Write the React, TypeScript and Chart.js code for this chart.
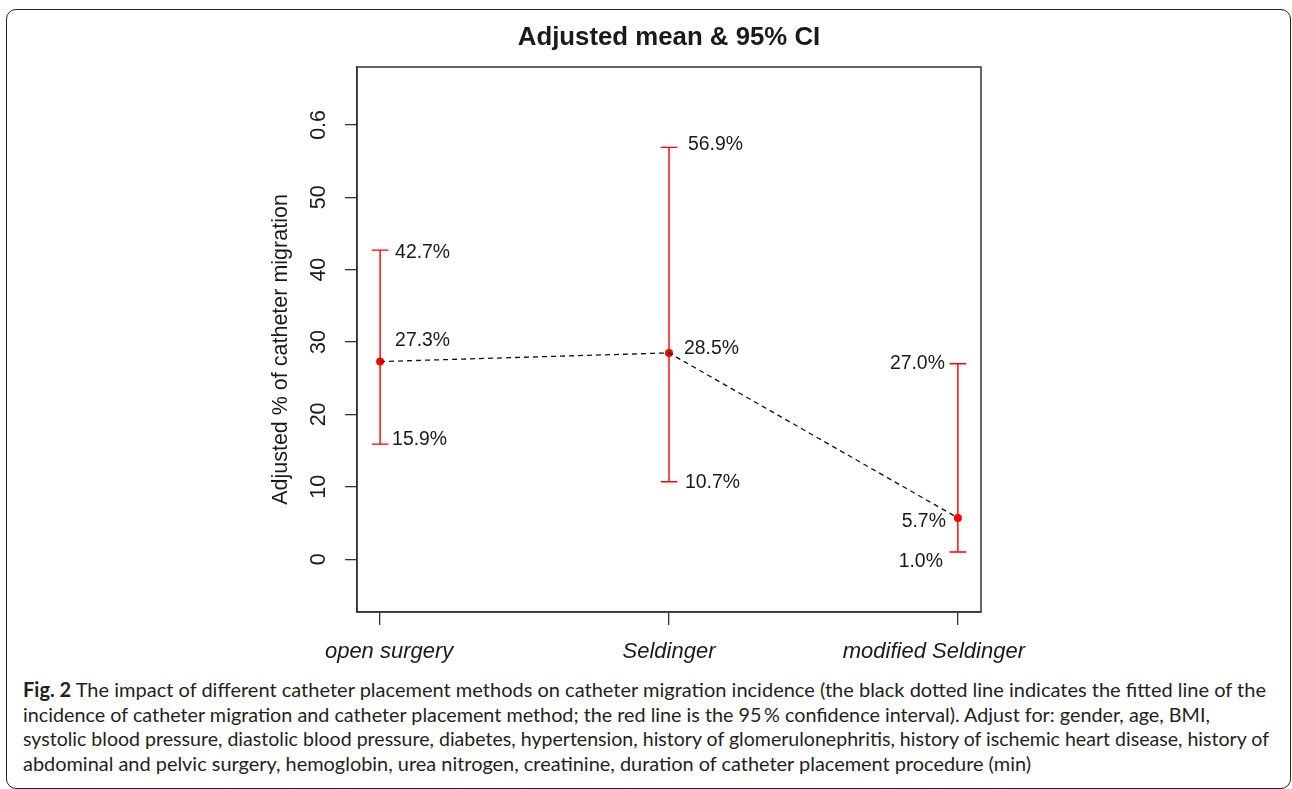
import { useEffect, useLayoutEffect, useRef } from 'react';
import { Chart, registerables } from 'chart.js';

Chart.register(...registerables);

// ---------- data ----------
const categories = ['open surgery', 'Seldinger', 'modified Seldinger'];
const categoryPositions = [1, 2, 3];
const meanValues = [27.3, 28.5, 5.7];
const lowerValues = [15.9, 10.7, 1.0];
const upperValues = [42.7, 56.9, 27.0];
const yTickValues = [0, 10, 20, 30, 40, 50, 60];
const yTickLabels = ['0', '10', '20', '30', '40', '50', '0.6'];
const chartTitle = 'Adjusted mean & 95% CI';
const yAxisTitle = 'Adjusted % of catheter migration';
const captionBold = 'Fig. 2';
const captionLines = [
  ' The impact of different catheter placement methods on catheter migration incidence (the black dotted line indicates the fitted line of the',
  'incidence of catheter migration and catheter placement method; the red line is the 95\u2009% confidence interval). Adjust for: gender, age, BMI,',
  'systolic blood pressure, diastolic blood pressure, diabetes, hypertension, history of glomerulonephritis, history of ischemic heart disease, history of',
  'abdominal and pelvic surgery, hemoglobin, urea nitrogen, creatinine, duration of catheter placement procedure (min)',
];

// ---------- styling ----------
const labelPlacement = [
  { align: 'left', upper: [15, 2.5], mean: [15, -21], lower: [12, -4] },
  { align: 'left', upper: [19, -2.6], mean: [15, -4], lower: [16, 1] },
  { align: 'right', upper: [-13, 0], mean: [-12, 4], lower: [-15, 10] },
];
const categoryLabelShift = [9, 0, -24];
const captionLineWidths = [1243, 1187, 1246, 1008];

const FONT = '"Liberation Sans", Arial, Helvetica, sans-serif';
const AXIS_PX = 21.5;
const XLABEL_PX = 22;
const LABEL_PX = 19.4;
const TITLE_PX = 25.8;
const INK = '#1a1a1a';

const fmt = (v: number) => v.toFixed(1) + '%';

const figurePlugin = {
  id: 'figurePlugin',
  beforeDatasetsDraw(chart: any) {
    const { ctx, scales } = chart;
    const x = scales.x;
    const y = scales.y;
    ctx.save();
    ctx.strokeStyle = '#ff0000';
    ctx.lineWidth = 1.4;
    categoryPositions.forEach((c, i) => {
      const px = x.getPixelForValue(c);
      const yl = y.getPixelForValue(lowerValues[i]);
      const yu = y.getPixelForValue(upperValues[i]);
      ctx.beginPath();
      ctx.moveTo(px, yl);
      ctx.lineTo(px, yu);
      ctx.moveTo(px - 8.3, yl);
      ctx.lineTo(px + 8.3, yl);
      ctx.moveTo(px - 8.3, yu);
      ctx.lineTo(px + 8.3, yu);
      ctx.stroke();
    });
    ctx.restore();
  },
  afterDatasetsDraw(chart: any) {
    const { ctx, scales, chartArea: ca } = chart;
    const x = scales.x;
    const y = scales.y;
    ctx.save();

    // plot box
    ctx.strokeStyle = '#333';
    ctx.lineWidth = 1.5;
    ctx.strokeRect(ca.left, ca.top, ca.right - ca.left, ca.bottom - ca.top);

    // value labels
    ctx.fillStyle = INK;
    ctx.font = `${LABEL_PX}px ${FONT}`;
    ctx.textBaseline = 'middle';
    categoryPositions.forEach((c, i) => {
      const px = x.getPixelForValue(c);
      const p = labelPlacement[i];
      ctx.textAlign = p.align as CanvasTextAlign;
      const items: [number, number[]][] = [
        [upperValues[i], p.upper],
        [meanValues[i], p.mean],
        [lowerValues[i], p.lower],
      ];
      items.forEach(([v, off]) => {
        ctx.fillText(fmt(v), px + off[0], y.getPixelForValue(v) + off[1]);
      });
    });

    // title
    ctx.textAlign = 'center';
    ctx.font = `bold ${TITLE_PX}px ${FONT}`;
    ctx.fillText(chartTitle, (ca.left + ca.right) / 2, 37.5);

    // x category labels
    ctx.font = `italic ${XLABEL_PX}px ${FONT}`;
    categoryPositions.forEach((c, i) => {
      ctx.fillText(categories[i], x.getPixelForValue(c) + categoryLabelShift[i], ca.bottom + 40);
    });

    // y tick labels (rotated)
    ctx.font = `${AXIS_PX}px ${FONT}`;
    yTickValues.forEach((v, i) => {
      ctx.save();
      ctx.translate(ca.left - 38, y.getPixelForValue(v));
      ctx.rotate(-Math.PI / 2);
      ctx.fillText(yTickLabels[i], 0, 0);
      ctx.restore();
    });

    // y axis title
    ctx.save();
    ctx.translate(ca.left - 75.5, (ca.top + ca.bottom) / 2 + 10);
    ctx.rotate(-Math.PI / 2);
    ctx.fillText(yAxisTitle, 0, 0);
    ctx.restore();

    ctx.restore();
  },
};

export default function App() {
  const canvasRef = useRef<HTMLCanvasElement | null>(null);
  const lineRefs = useRef<(HTMLSpanElement | null)[]>([]);

  useLayoutEffect(() => {
    const fit = () => {
      lineRefs.current.forEach((el, i) => {
        if (!el) return;
        el.style.transform = 'none';
        const w = el.getBoundingClientRect().width;
        if (w > 0) el.style.transform = `scaleX(${captionLineWidths[i] / w})`;
      });
    };
    fit();
    if ((document as any).fonts && (document as any).fonts.ready) {
      (document as any).fonts.ready.then(fit);
    }
  }, []);

  useEffect(() => {
    if (!canvasRef.current) return;
    const chart = new Chart(canvasRef.current, {
      type: 'scatter',
      data: {
        datasets: [
          {
            data: categoryPositions.map((c, i) => ({ x: c, y: meanValues[i] })),
            showLine: true,
            borderColor: '#111',
            borderWidth: 1.3,
            borderDash: [5, 4],
            pointRadius: 0,
            fill: false,
          },
          {
            data: categoryPositions.map((c, i) => ({ x: c, y: meanValues[i] })),
            showLine: false,
            pointRadius: 4,
            pointBackgroundColor: '#ff0000',
            pointBorderColor: '#ff0000',
            pointBorderWidth: 0,
          },
        ],
      },
      options: {
        responsive: false,
        animation: false,
        events: [],
        layout: { padding: { top: 67, right: 311, bottom: 0, left: 0 } },
        plugins: {
          legend: { display: false },
          tooltip: { enabled: false },
          title: { display: false },
        },
        scales: {
          x: {
            type: 'linear',
            min: 0.92,
            max: 3.08,
            afterBuildTicks: (s: any) => {
              s.ticks = categoryPositions.map((v) => ({ value: v }));
            },
            afterFit: (s: any) => {
              s.height = 58;
            },
            ticks: { display: false },
            grid: {
              drawOnChartArea: false,
              drawTicks: true,
              tickLength: 13,
              color: '#333',
              lineWidth: 1.3,
            },
            border: { display: true, color: '#333', width: 1.5 },
          },
          y: {
            type: 'linear',
            min: -7.3,
            max: 68,
            afterBuildTicks: (s: any) => {
              s.ticks = yTickValues.map((v) => ({ value: v }));
            },
            afterFit: (s: any) => {
              s.width = 357;
            },
            ticks: { display: false },
            grid: {
              drawOnChartArea: false,
              drawTicks: true,
              tickLength: 12,
              color: '#333',
              lineWidth: 1.3,
            },
            border: { display: true, color: '#333', width: 1.5 },
          },
        },
      },
      plugins: [figurePlugin],
    } as any);
    return () => chart.destroy();
  }, []);

  return (
    <div style={{ position: 'absolute', left: 0, top: 0, width: 1292, height: 789, background: '#fff', overflow: 'hidden' }}>
      <div
        style={{
          position: 'absolute',
          left: 6,
          top: 9,
          width: 1285,
          height: 780,
          boxSizing: 'border-box',
          border: '1.5px solid #222',
          borderRadius: 10,
        }}
      />
      <canvas
        ref={canvasRef}
        width={1292}
        height={670}
        style={{ position: 'absolute', left: 0, top: 0, width: 1292, height: 670 }}
      />
      <div
        style={{
          position: 'absolute',
          left: 23,
          top: 677,
          fontFamily: 'Lato, "Open Sans", sans-serif',
          fontSize: 20,
          lineHeight: '24.7px',
          color: '#231f20',
          whiteSpace: 'nowrap',
        }}
      >
        {captionLines.map((line, i) => (
          <div key={i}>
            <span
              ref={(el) => {
                lineRefs.current[i] = el;
              }}
              style={{ display: 'inline-block', transformOrigin: 'left center' }}
            >
              {i === 0 ? <b>{captionBold}</b> : null}
              {line}
            </span>
          </div>
        ))}
      </div>
    </div>
  );
}
